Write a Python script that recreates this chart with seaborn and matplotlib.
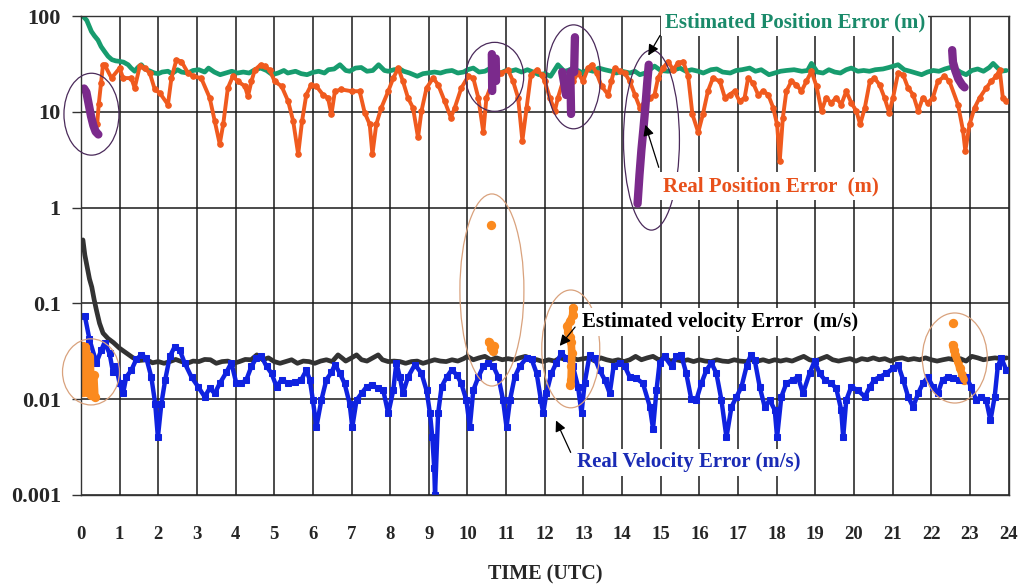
import numpy as np
import pandas as pd
import seaborn as sns
import matplotlib
matplotlib.use('Agg')
import matplotlib.pyplot as plt
from matplotlib.patches import Ellipse
from matplotlib.ticker import FixedLocator, NullLocator

# ---- data (hours UTC, error values) ----
est_pos_t = [0.05, 0.15, 0.27, 0.35, 0.44, 0.52, 0.61, 0.7, 0.8, 0.9, 1.0, 1.1, 1.22, 1.3, 1.39, 1.47,
             1.56, 1.65, 1.75, 1.9, 2.0, 2.1, 2.25, 2.35, 2.5, 2.6, 2.77, 2.9, 3.05, 3.2, 3.3, 3.45,
             3.6, 3.75, 3.9, 4.05, 4.2, 4.35, 4.5, 4.65, 4.8, 4.95, 5.1, 5.25, 5.35, 5.55, 5.7, 5.85,
             6.0, 6.15, 6.3, 6.4, 6.55, 6.7, 6.85, 6.95, 7.1, 7.25, 7.4, 7.55, 7.7, 7.85, 7.95, 8.1,
             8.25, 8.35, 8.5, 8.7, 8.85, 8.98, 9.15, 9.3, 9.45, 9.6, 9.75, 9.9, 10.0, 10.15, 10.3,
             10.45, 10.6, 10.75, 10.85, 11.0, 11.1, 11.25, 11.4, 11.55, 11.7, 11.85, 12.0, 12.15,
             12.34, 12.5, 12.6, 12.73, 12.85, 12.99, 13.1, 13.25, 13.4, 13.55, 13.72, 13.85, 14.0,
             14.2, 14.33, 14.46, 14.6, 14.84, 15.0, 15.19, 15.35, 15.5, 15.65, 15.8, 15.97, 16.1,
             16.3, 16.45, 16.6, 16.8, 16.95, 17.1, 17.3, 17.45, 17.6, 17.8, 17.95, 18.1, 18.25,
             18.45, 18.65, 18.8, 18.9, 19.05, 19.2, 19.35, 19.5, 19.65, 19.8, 19.93, 20.1, 20.25,
             20.4, 20.55, 20.75, 20.9, 21.14, 21.3, 21.45, 21.6, 21.75, 21.9, 22.05, 22.2, 22.35,
             22.55, 22.75, 22.9, 23.05, 23.2, 23.35, 23.5, 23.6, 23.8, 23.94]
est_pos_v = [100, 90, 69, 62, 56, 48, 42.6, 38, 35, 34, 33.6, 33, 31, 28.5, 26.5, 29,
             31, 28, 27, 25.4, 25, 26, 26.5, 25, 27.5, 26, 25.4, 27, 27.5, 26, 28.6, 26,
             24.4, 25.4, 26.5, 25.4, 26, 25.4, 27.5, 28.6, 27, 24.4, 25.4, 27, 25.4, 26.5, 25, 24.4,
             25.8, 26.5, 25.4, 27.5, 28, 31, 27, 26.5, 28.6, 29, 26.5, 27, 31, 27, 26.5, 27.5,
             28, 26.5, 25.4, 23.5, 25, 25.4, 26, 25.4, 26.5, 27, 25.4, 26, 27.5, 28.6, 26,
             26.5, 28.6, 26.5, 25.4, 27, 26.5, 27.5, 26, 27.5, 26, 24.4, 25, 23.5,
             31, 26.5, 27, 28.6, 27, 25.4, 27.5, 26.5, 28.6, 27.5, 26.5, 25.4, 26.5,
             25.4, 26.5, 24.4, 25.4, 30, 27, 26.5, 27.5, 28.6, 26.5, 27.5, 26.5, 25.4,
             27.5, 28, 26, 25.4, 27, 27.5, 28.6, 26.5, 27.5, 24.4, 25.4, 26.5, 27,
             27.5, 26.5, 27, 32, 26, 25.4, 27.5, 26, 25.4, 27.5, 28.6, 26.5, 27,
             26.5, 27.5, 28, 29, 31, 27.5, 26.5, 25.4, 24.4, 26, 27, 26.5, 28,
             29.5, 26, 24.4, 27, 28, 26.5, 29, 32, 26.5, 27]

real_pos_t = [0.42, 0.46, 0.52, 0.57, 0.61, 0.79, 1.0, 1.09, 1.3, 1.39, 1.52, 1.65, 1.78, 1.91, 2.04,
              2.25, 2.34, 2.47, 2.6, 2.77, 2.9, 3.11, 3.33, 3.46, 3.59, 3.68, 3.8, 3.93, 4.06, 4.24,
              4.32, 4.41, 4.5, 4.65, 4.75, 4.88, 5.01, 5.19, 5.36, 5.49, 5.62, 5.72, 5.83, 5.96, 6.09,
              6.26, 6.39, 6.48, 6.57, 6.74, 7.0, 7.21, 7.34, 7.47, 7.54, 7.64, 7.77, 7.95, 8.08, 8.21,
              8.33, 8.46, 8.59, 8.72, 8.81, 8.94, 9.11, 9.24, 9.41, 9.57, 9.67, 9.84, 10.02, 10.15,
              10.28, 10.41, 10.49, 10.62, 10.75, 10.88, 11.05, 11.18, 11.31, 11.42, 11.53, 11.64,
              11.79, 11.92, 12.0, 12.13, 12.26, 12.34, 12.47, 12.6, 12.73, 12.86, 12.99, 13.12, 13.21,
              13.34, 13.47, 13.64, 13.72, 13.81, 13.94, 14.07, 14.2, 14.33, 14.46, 14.59, 14.72,
              14.84, 14.93, 15.06, 15.19, 15.32, 15.45, 15.58, 15.71, 15.82, 15.97, 16.09, 16.22,
              16.35, 16.53, 16.66, 16.78, 16.91, 17.04, 17.17, 17.26, 17.39, 17.52, 17.65, 17.78,
              17.91, 18.01, 18.08, 18.16, 18.25, 18.38, 18.51, 18.64, 18.77, 18.9, 19.03, 19.16,
              19.28, 19.41, 19.54, 19.67, 19.8, 19.93, 20.06, 20.16, 20.28, 20.41, 20.53, 20.66,
              20.79, 20.91, 21.01, 21.14, 21.27, 21.4, 21.53, 21.66, 21.78, 21.91, 22.04, 22.17,
              22.34, 22.47, 22.69, 22.82, 22.88, 22.99, 23.12, 23.25, 23.42, 23.55, 23.68, 23.77,
              23.85, 23.94]
real_pos_v = [7.5, 12, 20, 31, 31, 22.5, 28.6, 22.5, 22.5, 17.7, 29.8, 28.6, 25.4, 17.1, 15.7,
              11.9, 22.5, 34.9, 33.5, 25.4, 23.5, 22.5, 14.0, 8.0, 4.6, 7.4, 17.7, 23.5, 20.8, 18.5,
              14.5, 20.8, 27.5, 31, 29.8, 27.5, 20.8, 18.5, 12.9, 8.0, 3.6, 8.0, 15.1, 19.2, 18.5,
              15.1, 14.0, 9.4, 16.4, 17.1, 16.4, 16.4, 9.8, 7.4, 3.6, 7.4, 11.0, 16.4, 22.5, 28.6,
              20.8, 14.0, 11.0, 5.4, 10.2, 17.7, 22.5, 19.2, 12.9, 8.7, 11.0, 17.7, 23.5, 22.5,
              14.0, 6.1, 14.0, 19.2, 22.5, 25.4, 27.5, 20.8, 14.0, 5.0, 11.0, 24.4,
              27.5, 24.4, 20.8, 14.0, 10.2, 14.0, 20.8, 18.5, 20.8, 25.4, 20.8, 28.6, 31,
              25.4, 18.5, 15.1, 20.8, 28.6, 26.5, 25.4, 20.8, 15.1, 11.0, 12.9, 14.0,
              15.1, 22.5, 28.6, 33.5, 27.5, 32.5, 33.5, 23.5, 9.4, 6.1, 9.4, 16.4,
              22.5, 20.8, 14.0, 15.1, 16.4, 12.9, 14.0, 22.5, 19.9, 15.1, 16.4, 15.1,
              11.0, 7.4, 3.1, 8.7, 16.4, 20.8, 19.2, 16.4, 20.8, 26.5, 18.5, 10.2,
              14.0, 12.4, 14.0, 11.9, 16.4, 12.4, 10.2, 7.4, 11.0, 20.8, 22.5, 19.2,
              14.0, 9.8, 14.0, 25.4, 24.4, 17.7, 15.1, 10.2, 14.0, 12.4, 14.0, 20.8,
              23.5, 20.8, 11.9, 6.4, 3.9, 7.4, 11.0, 14.0, 17.7, 20.8, 23.5, 27.5,
              14.0, 12.9]

est_vel_t = [0.05, 0.1, 0.16, 0.22, 0.28, 0.34, 0.4, 0.48, 0.57, 0.7, 0.84, 1.0, 1.19, 1.35, 1.53,
             1.7, 1.85, 2.0, 2.15, 2.3, 2.45, 2.6, 2.75, 2.9, 3.05, 3.2, 3.35, 3.5, 3.65, 3.8, 3.95,
             4.1, 4.25, 4.4, 4.55, 4.7, 4.85, 5.0, 5.15, 5.3, 5.45, 5.6, 5.75, 5.9, 6.05, 6.2, 6.35,
             6.5, 6.65, 6.75, 6.85, 7.0, 7.13, 7.26, 7.4, 7.55, 7.69, 7.8, 7.95, 8.1, 8.25, 8.4,
             8.55, 8.7, 8.85, 9.0, 9.15, 9.3, 9.45, 9.6, 9.75, 9.9, 10.0, 10.15, 10.3, 10.45, 10.6,
             10.75, 10.9, 11.05, 11.2, 11.35, 11.5, 11.65, 11.8, 11.95, 12.1, 12.25, 12.4, 12.55,
             12.7, 12.85, 13.0, 13.15, 13.3, 13.45, 13.6, 13.75, 13.9, 14.05, 14.2, 14.35, 14.5,
             14.65, 14.8, 14.95, 15.1, 15.25, 15.4, 15.55, 15.7, 15.85, 16.0, 16.15, 16.3, 16.45,
             16.6, 16.75, 16.9, 17.05, 17.2, 17.35, 17.5, 17.65, 17.8, 17.95, 18.1, 18.25, 18.4,
             18.55, 18.7, 18.85, 19.0, 19.15, 19.3, 19.45, 19.6, 19.75, 19.9, 20.05, 20.2, 20.35,
             20.5, 20.65, 20.8, 20.95, 21.1, 21.25, 21.4, 21.55, 21.7, 21.85, 22.0, 22.15, 22.3,
             22.45, 22.6, 22.75, 22.9, 23.05, 23.2, 23.35, 23.5, 23.65, 23.8, 23.95]
est_vel_v = [0.46, 0.32, 0.24, 0.18, 0.148, 0.11, 0.085, 0.062, 0.049, 0.043, 0.039, 0.034, 0.030, 0.027, 0.0254,
             0.0258, 0.024, 0.0247, 0.0237, 0.0247, 0.026, 0.0247, 0.0237, 0.025, 0.0247, 0.026, 0.0258, 0.0237, 0.0247, 0.025, 0.0237,
             0.0247, 0.026, 0.0258, 0.029, 0.0258, 0.027, 0.0247, 0.0237, 0.0247, 0.0258, 0.0237, 0.025, 0.0247, 0.0237, 0.025, 0.0258,
             0.0247, 0.029, 0.027, 0.025, 0.027, 0.029, 0.0258, 0.025, 0.027, 0.029, 0.0258, 0.0247, 0.025, 0.0247, 0.0237,
             0.0247, 0.025, 0.0237, 0.0247, 0.0258, 0.025, 0.0247, 0.0258, 0.025, 0.0265, 0.028, 0.0258, 0.027, 0.028, 0.0258,
             0.027, 0.0258, 0.0265, 0.0258, 0.027, 0.028, 0.0265, 0.0258, 0.0247, 0.0258, 0.025, 0.027, 0.0258,
             0.027, 0.0258, 0.0265, 0.027, 0.025, 0.027, 0.0258, 0.025, 0.0258, 0.0247, 0.0258, 0.028, 0.0258,
             0.027, 0.028, 0.0258, 0.027, 0.025, 0.0258, 0.025, 0.0258, 0.0247, 0.0258, 0.025, 0.0247, 0.0258,
             0.025, 0.0247, 0.0258, 0.025, 0.0247, 0.0258, 0.025, 0.0258, 0.0247, 0.0258, 0.025, 0.0258, 0.025,
             0.0265, 0.028, 0.0258, 0.025, 0.0265, 0.028, 0.0258, 0.025, 0.0258, 0.0265, 0.025, 0.0265, 0.0258,
             0.027, 0.0258, 0.0265, 0.025, 0.0265, 0.027, 0.0258, 0.0265, 0.0258, 0.027, 0.0258, 0.025, 0.0258,
             0.0265, 0.0258, 0.0265, 0.025, 0.028, 0.027, 0.0258, 0.0265, 0.027, 0.0265, 0.027]

real_vel_t = [0.1, 0.22, 0.4, 0.53, 0.61, 0.74, 0.83, 0.91, 1.0, 1.09, 1.17, 1.3, 1.43, 1.56, 1.69,
              1.82, 1.92, 1.99, 2.08, 2.18, 2.3, 2.42, 2.55, 2.68, 2.86, 3.03, 3.2, 3.33, 3.46, 3.59,
              3.76, 3.89, 4.02, 4.15, 4.28, 4.41, 4.54, 4.67, 4.8, 4.93, 5.06, 5.19, 5.36, 5.53, 5.7,
              5.83, 5.92, 6.0, 6.09, 6.22, 6.35, 6.48, 6.57, 6.7, 6.82, 6.95, 7.02, 7.13, 7.26, 7.39,
              7.52, 7.69, 7.82, 7.95, 8.08, 8.16, 8.25, 8.33, 8.46, 8.64, 8.81, 8.94, 9.03, 9.09, 9.14,
              9.16, 9.24, 9.33, 9.46, 9.59, 9.72, 9.84, 9.97, 10.06, 10.15, 10.28, 10.41, 10.54, 10.67,
              10.8, 10.92, 11.01, 11.1, 11.22, 11.35, 11.53, 11.66, 11.79, 11.9, 11.96, 12.04, 12.17,
              12.3, 12.43, 12.56, 12.73, 12.86, 12.95, 13.03, 13.16, 13.29, 13.42, 13.55, 13.68, 13.78,
              13.94, 14.07, 14.2, 14.37, 14.54, 14.72, 14.8, 14.89, 14.97, 15.1, 15.28, 15.4, 15.53,
              15.66, 15.79, 15.92, 16.05, 16.18, 16.31, 16.44, 16.57, 16.7, 16.83, 16.96, 17.09, 17.22,
              17.33, 17.43, 17.56, 17.69, 17.82, 17.95, 18.01, 18.12, 18.25, 18.42, 18.55, 18.68, 18.85,
              18.98, 19.11, 19.24, 19.41, 19.54, 19.67, 19.72, 19.8, 19.93, 20.1, 20.28, 20.41, 20.53,
              20.66, 20.84, 21.01, 21.14, 21.27, 21.4, 21.53, 21.66, 21.78, 21.91, 22.04, 22.17, 22.29,
              22.43, 22.55, 22.72, 22.9, 23.03, 23.16, 23.29, 23.42, 23.53, 23.64, 23.72, 23.81, 23.94]
real_vel_v = [0.074, 0.042, 0.024, 0.033, 0.039, 0.03, 0.019, 0.022, 0.0146, 0.0115, 0.017, 0.02, 0.026, 0.029, 0.027,
              0.017, 0.009, 0.004, 0.009, 0.016, 0.028, 0.035, 0.033, 0.024, 0.017, 0.0135, 0.0106, 0.013, 0.0115, 0.0146,
              0.019, 0.024, 0.0146, 0.0146, 0.016, 0.022, 0.027, 0.028, 0.022, 0.0186, 0.0135, 0.016, 0.0146, 0.015, 0.016,
              0.02, 0.016, 0.0098, 0.0051, 0.0098, 0.016, 0.019, 0.023, 0.0186, 0.0146, 0.009, 0.0051, 0.0098, 0.0115, 0.0135,
              0.014, 0.013, 0.0124, 0.0071, 0.0124, 0.024, 0.017, 0.0115, 0.017, 0.023, 0.0186, 0.0124, 0.0071, 0.004, 0.0019,
              0.001, 0.0071, 0.0135, 0.017, 0.0202, 0.018, 0.0146, 0.0098, 0.0051, 0.0124, 0.017, 0.022, 0.024, 0.022,
              0.017, 0.0098, 0.0051, 0.0098, 0.017, 0.022, 0.027, 0.026, 0.0186, 0.0098, 0.0071, 0.0115, 0.0186,
              0.024, 0.03, 0.027, 0.022, 0.0135, 0.0071, 0.0146, 0.029, 0.027, 0.02, 0.016, 0.0115, 0.022,
              0.024, 0.022, 0.017, 0.0165, 0.0146, 0.0083, 0.0049, 0.0124, 0.024, 0.028, 0.022, 0.028, 0.029,
              0.0186, 0.01, 0.0098, 0.0146, 0.02, 0.024, 0.0186, 0.0098, 0.004, 0.0083, 0.0106, 0.0135, 0.022,
              0.029, 0.0258, 0.0135, 0.0083, 0.0098, 0.0077, 0.004, 0.0106, 0.0146, 0.016, 0.017, 0.0115, 0.0186,
              0.025, 0.0186, 0.016, 0.0146, 0.013, 0.0077, 0.004, 0.0098, 0.0135, 0.0124, 0.0106, 0.0135, 0.016,
              0.017, 0.0186, 0.021, 0.023, 0.016, 0.0106, 0.0083, 0.0115, 0.0146, 0.017, 0.0135, 0.0115, 0.016,
              0.017, 0.0165, 0.016, 0.017, 0.0135, 0.0098, 0.0106, 0.0098, 0.006, 0.0106, 0.022, 0.027, 0.0202]

# position anomalies (purple), one group per burst
pos_anom_grp = [1] * 7 + [2] * 2 + [3] * 2 + [4] * 3 + [5] * 3 + [6] * 3 + [7] * 7 + [8] * 6
pos_anom_t = [0.08, 0.14, 0.2, 0.26, 0.32, 0.38, 0.45,
              10.63, 10.64, 10.73, 10.74,
              12.45, 12.5, 12.55, 12.66, 12.67, 12.68, 12.78, 12.77, 12.76,
              14.69, 14.65, 14.6, 14.55, 14.5, 14.45, 14.4,
              22.54, 22.56, 22.62, 22.7, 22.8, 22.86]
pos_anom_v = [17.5, 16, 12, 9, 7.2, 6.2, 5.8,
              40, 16.5, 36, 21,
              26, 20, 15, 26, 16, 9.5, 60, 40, 26,
              31, 20, 11, 6.5, 4, 2.2, 1.1,
              44, 33, 27, 22, 19, 18]

# velocity anomalies (orange), one group per burst
vel_anom_grp = [1] * 2 + [2] * 2 + [3] * 2 + [4] * 2 + [5] + [6] * 5 + [7] * 11 + [8] + [9] * 7
vel_anom_t = [0.06, 0.06, 0.14, 0.16, 0.24, 0.26, 0.33, 0.36,
              10.62,
              10.55, 10.62, 10.68, 10.6, 10.66,
              12.73, 12.72, 12.66, 12.58, 12.6, 12.64, 12.68, 12.7, 12.69, 12.68, 12.66,
              22.55,
              22.55, 22.58, 22.62, 22.68, 22.74, 22.8, 22.85]
vel_anom_v = [0.036, 0.012, 0.035, 0.012, 0.028, 0.011, 0.018, 0.0105,
              0.66,
              0.040, 0.037, 0.036, 0.034, 0.032,
              0.09, 0.075, 0.065, 0.058, 0.05, 0.045, 0.04, 0.03, 0.022, 0.016, 0.014,
              0.063,
              0.037, 0.033, 0.029, 0.025, 0.021, 0.018, 0.016]

hours = list(range(0, 25))
y_ticks = [0.001, 0.01, 0.1, 1, 10, 100]
y_labels = ['0.001', '0.01', '0.1', '1', '10', '100']

est_pos = pd.DataFrame({'t': est_pos_t, 'v': est_pos_v})
real_pos = pd.DataFrame({'t': real_pos_t, 'v': real_pos_v})
est_vel = pd.DataFrame({'t': est_vel_t, 'v': est_vel_v})
real_vel = pd.DataFrame({'t': real_vel_t, 'v': real_vel_v})
pos_anom = pd.DataFrame({'t': pos_anom_t, 'v': pos_anom_v, 'g': pos_anom_grp})
vel_anom = pd.DataFrame({'t': vel_anom_t, 'v': vel_anom_v, 'g': vel_anom_grp})

sns.set_theme(style='white')
plt.rcParams['font.family'] = ['Liberation Serif', 'DejaVu Serif']
plt.rcParams['font.weight'] = 'bold'

fig = plt.figure(figsize=(10.25, 5.84), dpi=100)
ax = fig.add_axes([0.079, 0.1524, 0.905, 0.8202])
ax.set_yscale('log')

# series
sns.lineplot(data=est_pos, x='t', y='v', color='#179c6e', lw=3.4, ax=ax)
sns.lineplot(data=real_pos, x='t', y='v', color='#f05a1e', lw=2.8, marker='o', ms=4,
             mec='#f05a1e', ax=ax)
sns.lineplot(data=est_vel, x='t', y='v', color='#333333', lw=3.4, ax=ax)
sns.lineplot(data=real_vel, x='t', y='v', color='#0f22e0', lw=3.2, marker='s', ms=4.5,
             mec='#0f22e0', ax=ax)
sns.lineplot(data=pos_anom, x='t', y='v', units='g', estimator=None, sort=False,
             color='#7b2a8c', lw=6, ax=ax)
sns.lineplot(data=vel_anom, x='t', y='v', units='g', estimator=None, sort=False,
             color='#fb8a1f', lw=5.5, ax=ax)
sns.scatterplot(data=vel_anom, x='t', y='v', color='#fb8a1f', s=45, linewidth=0, ax=ax)

ax.set_xlim(0, 24)
ax.set_ylim(0.001, 100)
ax.xaxis.set_major_locator(FixedLocator(hours))
ax.set_xticklabels([str(h) for h in hours])
ax.yaxis.set_major_locator(FixedLocator(y_ticks))
ax.yaxis.set_minor_locator(NullLocator())
ax.set_yticklabels(y_labels)
ax.grid(True, which='major', color='#1a1a1a', lw=1.1)
for s in ax.spines.values():
    s.set_color('#333333')
    s.set_linewidth(1.0)
ax.tick_params(axis='y', which='major', length=6.5, width=1, color='#333333',
               direction='out', pad=8, labelsize=16, left=True)
ax.tick_params(axis='x', length=0, pad=22, labelsize=13.5)
for lab in ax.get_xticklabels() + ax.get_yticklabels():
    lab.set_fontweight('bold')

ax.set_xlabel('TIME (UTC)', fontsize=14.5, fontweight='bold', labelpad=16)
ax.set_ylabel('')

# ellipses around the bursts (axes fraction)
purple_ell = [(0.0113, 0.795, 0.0593, 0.171), (0.446, 0.873, 0.0625, 0.144),
              (0.531, 0.873, 0.0582, 0.217), (0.615, 0.741, 0.0603, 0.376)]
tan_ell = [(0.0108, 0.257, 0.0614, 0.138), (0.443, 0.428, 0.069, 0.401),
           (0.528, 0.305, 0.0625, 0.246), (0.942, 0.286, 0.070, 0.188)]
for cx, cy, w, h in purple_ell:
    ax.add_patch(Ellipse((cx, cy), w, h, transform=ax.transAxes, fill=False,
                         ec='#4a2a5a', lw=0.9, clip_on=False, zorder=5))
for cx, cy, w, h in tan_ell:
    ax.add_patch(Ellipse((cx, cy), w, h, transform=ax.transAxes, fill=False,
                         ec='#d9a27d', lw=0.9, clip_on=False, zorder=5))

# labels with arrows (white boxes hide the grid behind the text)
box = dict(fc='white', ec='none', pad=2.5)
arrow = dict(arrowstyle='-|>', color='black', lw=0.9, mutation_scale=16)
ax.annotate('', xy=(14.64, 36.5), xytext=(15.02, 66.5), arrowprops=arrow, zorder=6)
ax.text(15.1, 86.6, 'Estimated Position Error (m)', color='#1a8a6a', fontsize=15,
        fontweight='bold', va='center', ha='left', bbox=box, zorder=7)
ax.annotate('', xy=(14.58, 7.8), xytext=(14.97, 2.47), arrowprops=arrow, zorder=6)
ax.text(15.05, 1.68, 'Real Position Error  (m)', color='#e8501a', fontsize=15,
        fontweight='bold', va='center', ha='left', bbox=box, zorder=7)
ax.annotate('', xy=(12.34, 0.0342), xytext=(12.83, 0.0596), arrowprops=arrow, zorder=6)
ax.text(12.96, 0.064, 'Estimated velocity Error  (m/s)', color='black', fontsize=15,
        fontweight='bold', va='center', ha='left', bbox=box, zorder=7)
ax.annotate('', xy=(12.26, 0.00637), xytext=(12.7, 0.00262), arrowprops=arrow, zorder=6)
ax.text(12.83, 0.0022, 'Real Velocity Error (m/s)', color='#1a2bb5', fontsize=15,
        fontweight='bold', va='center', ha='left', bbox=box, zorder=7)

fig.savefig('out.png', dpi=100)
